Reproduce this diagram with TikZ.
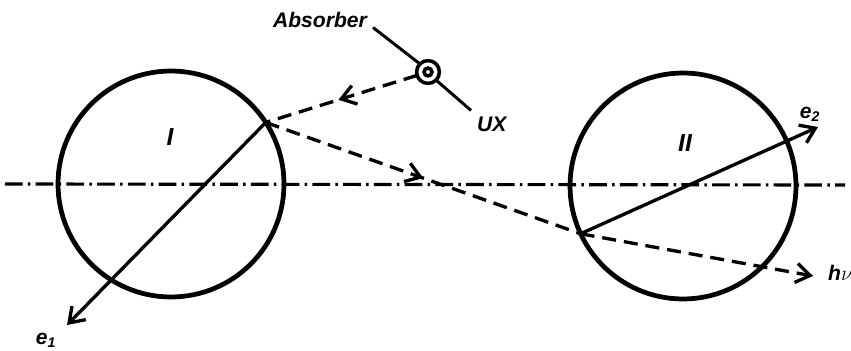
\documentclass[tikz,border=0pt]{standalone}
\usepackage{fontspec}
\setmainfont{Liberation Sans}
\usepackage{tikz}
\usetikzlibrary{arrows.meta, positioning, decorations.markings}

\begin{document}
\begin{tikzpicture}[
  x=0.02cm, y=-0.02cm,
  counter/.style={circle, draw, line width=2.7pt, inner sep=0pt, outer sep=0pt,
                  minimum size=4.52cm},
  source/.style={circle, draw, line width=2pt, inner sep=0pt, outer sep=0pt,
                 minimum size=#1},
  track/.style={line width=1.9pt, -{Straight Barb[length=8pt, width=11pt]}},
  ray/.style={line width=1.9pt, dash pattern=on 8pt off 4.5pt},
  midarr/.style={postaction={decorate}, decoration={markings,
                 mark=at position #1 with {\arrow{Straight Barb[length=8pt, width=11pt]}}}},
  axisline/.style={line width=1.8pt, dash pattern=on 10pt off 3pt on 1.5pt off 3pt},
  lbl/.style={font=\fontsize{12}{14}\selectfont\bfseries\itshape},
  pointer/.style={line width=1.7pt},
]
\useasboundingbox (0,0) rectangle (851,351);

%% Axis
\coordinate (axL) at (5,184);
\coordinate (axR) at (845,185);
\draw[axisline] (axL) -- (axR);

%% Counters
\node[counter] (I)  at (171,184) {};
\node[counter] (II) at (683,186) {};
\node[lbl, font=\fontsize{14}{16}\selectfont\bfseries\itshape] (labI)  at (170,137) {I};
\node[lbl, font=\fontsize{14}{16}\selectfont\bfseries\itshape] (labII) at (685,143) {II};

%% Source with absorber
\node[source=13pt] (src) at (428,72) {};
\node[source=4.5pt]  (srcin) at (428,72) {};
\node[lbl] (Absorber) at (320,20) {Absorber};
\node[lbl, anchor=west] (UX) at (471,124) {UX};
\draw[pointer] (Absorber.base east) -- (src.north west);
\draw[pointer] (src.south east) -- (UX.north west);

%% Free ends
\coordinate (e1end) at (67,325);
\coordinate (e2end) at (818,127);
\coordinate (hend)  at (813,276);
\node[lbl] (e1) at (46,340) {e\textsubscript{1}};
\node[lbl] (e2) at (810,114) {e\textsubscript{2}};
\node[lbl, anchor=west] (hnu) at (822,273) {h$\nu$};

%% Quanta (dashed)
\draw[ray, midarr=0.52] (src) -- (I.33);
\draw[ray, midarr=0.5] (I.33) -- (II.205);
\draw[ray, -{Straight Barb[length=8pt, width=11pt]}] (II.205) -- (hend);

%% Electron tracks
\draw[track] (I.33) -- (e1end);
\draw[track] (II.205) -- (e2end);

\end{tikzpicture}
\end{document}
